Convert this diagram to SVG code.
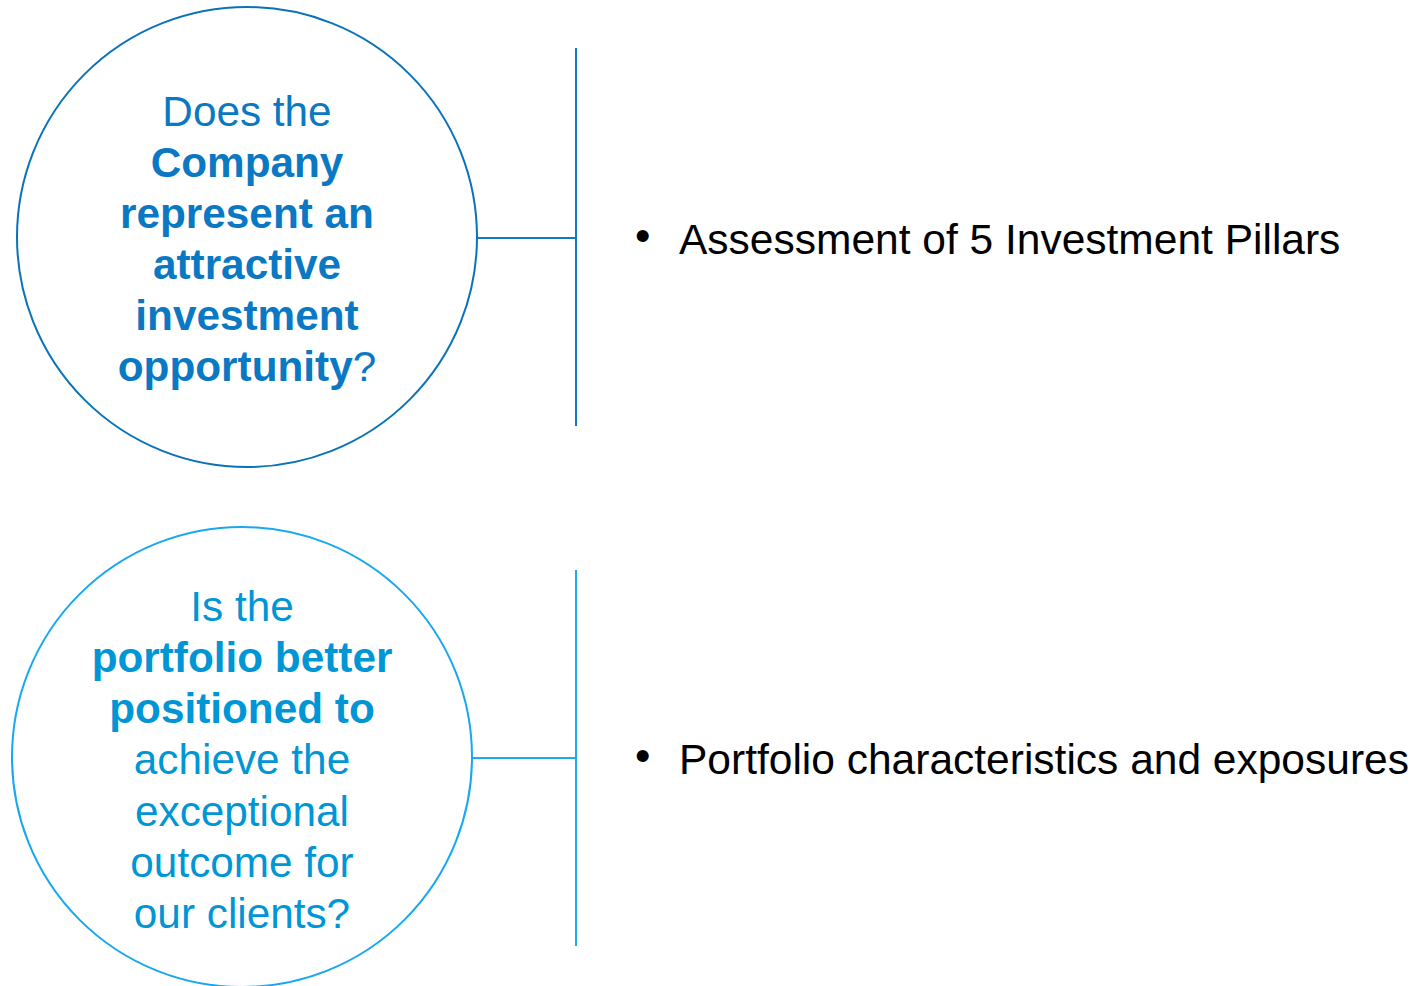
<svg xmlns="http://www.w3.org/2000/svg" width="1418" height="986" viewBox="0 0 1418 986">
  <style>
    .q { font-family: "Liberation Sans", Arial, sans-serif; font-size: 42.3px; text-anchor: middle; }
    .q1 { fill: #0A78C2; }
    .q2 { fill: #0096D6; }
    .b { font-weight: bold; }
    .ring { fill: #fff; stroke-width: 2; }
    .item { font-family: "Liberation Sans", Arial, sans-serif; font-size: 42.5px; fill: #000; }
    .dot { font-family: "Liberation Sans", Arial, sans-serif; font-size: 44px; fill: #000; }
    .c1 { stroke: #1479C2; stroke-width: 2; fill: none; }
    .c2 { stroke: #20A8EC; stroke-width: 2; fill: none; }
  </style>
  <rect width="1418" height="986" fill="#fff"/>

  <g id="connectors">
    <line class="c1" x1="477" y1="238" x2="576" y2="238"/>
    <line class="c1" x1="576" y1="48" x2="576" y2="426"/>
    <line class="c2" x1="472" y1="758" x2="576" y2="758"/>
    <line class="c2" x1="576" y1="570" x2="576" y2="946"/>
  </g>

  <g id="question-company">
    <circle class="ring" cx="247" cy="237" r="230" stroke="#0A72BA"/>
    <text class="q q1" x="247" y="126">Does the</text>
    <text class="q q1 b" x="247" y="177">Company</text>
    <text class="q q1 b" x="247" y="228">represent an</text>
    <text class="q q1 b" x="247" y="279">attractive</text>
    <text class="q q1 b" x="247" y="330">investment</text>
    <text class="q q1" x="247" y="381"><tspan class="b">opportunity</tspan>?</text>
  </g>

  <g id="question-portfolio">
    <circle class="ring" cx="242" cy="757" r="230" stroke="#18A8F0"/>
    <text class="q q2" x="242" y="621">Is the</text>
    <text class="q q2 b" x="242" y="672">portfolio better</text>
    <text class="q q2 b" x="242" y="723">positioned to</text>
    <text class="q q2" x="242" y="774">achieve the</text>
    <text class="q q2" x="242" y="826">exceptional</text>
    <text class="q q2" x="242" y="877">outcome for</text>
    <text class="q q2" x="242" y="928">our clients?</text>
  </g>

  <g id="item-pillars">
    <text class="dot" x="635" y="251">•</text>
    <text class="item" x="679" y="254">Assessment of 5 Investment Pillars</text>
  </g>

  <g id="item-exposures">
    <text class="dot" x="635" y="771">•</text>
    <text class="item" x="679" y="774">Portfolio characteristics and exposures</text>
  </g>
</svg>
